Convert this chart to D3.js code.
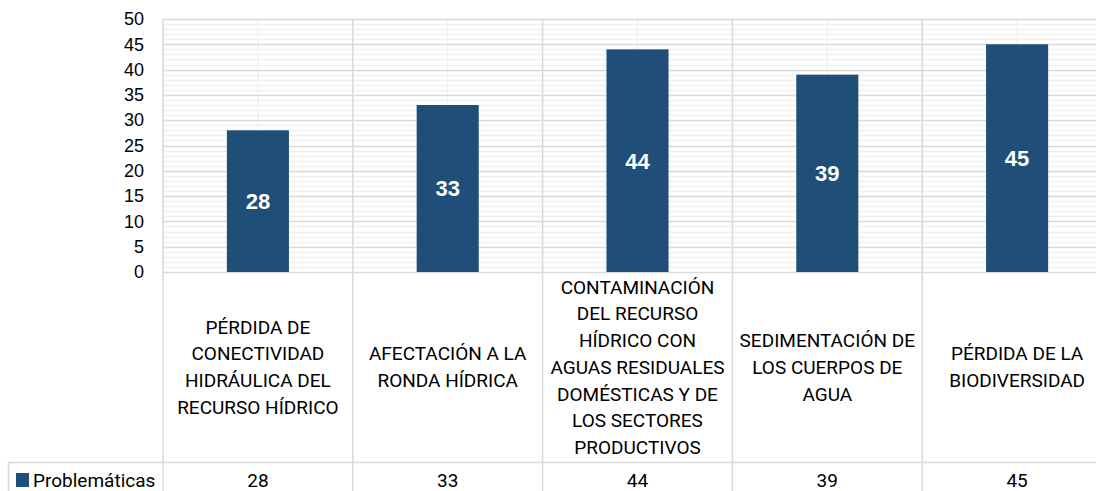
<!DOCTYPE html>
<html>
<head>
<meta charset="utf-8">
<script src="https://cdn.jsdelivr.net/npm/d3@7"></script>
<style>
  body { margin: 0; background: #fff; }
  svg { display: block; }
</style>
</head>
<body>
<div id="bar_chart"></div>
<script>
// Data
var categories = [
  ["PÉRDIDA DE", "CONECTIVIDAD", "HIDRÁULICA DEL", "RECURSO HÍDRICO"],
  ["AFECTACIÓN A LA", "RONDA HÍDRICA"],
  ["CONTAMINACIÓN", "DEL RECURSO", "HÍDRICO CON", "AGUAS RESIDUALES", "DOMÉSTICAS Y DE", "LOS SECTORES", "PRODUCTIVOS"],
  ["SEDIMENTACIÓN DE", "LOS CUERPOS DE", "AGUA"],
  ["PÉRDIDA DE LA", "BIODIVERSIDAD"]
];
var values = [28, 33, 44, 39, 45];
var seriesName = "Problemáticas";
var yTicks = [0, 5, 10, 15, 20, 25, 30, 35, 40, 45, 50];

var w = 1096, h = 491;
var margin = {top: 19, left: 163, bottom: 219};
var plotRight = 163 + 5 * 189.8;
var axisY = h - margin.bottom;   // y of value 0
var tableY = 462;                // top of the data table row
var gridMajor = "#d9d9d9", gridMinor = "#f0f0f0";
var barColor = "#1f4e79";
var textFont = "Roboto, sans-serif";

var svg = d3.select("#bar_chart").append("svg")
    .attr("width", w)
    .attr("height", h);

var ids = categories.map(function(d, i) { return i; });

// scales
var x = d3.scaleBand().domain(ids).range([margin.left, plotRight]).paddingInner(0.673).paddingOuter(0.3365);
var xCat = d3.scaleBand().domain(ids).range([margin.left, plotRight]);
var y = d3.scaleLinear().domain([0, 50]).range([axisY, margin.top]);

// minor gridlines
var minor = d3.range(1, 50).filter(function(v) { return v % 5 !== 0; });
svg.append("g").selectAll("line").data(minor).enter().append("line")
    .attr("x1", margin.left).attr("x2", plotRight)
    .attr("y1", function(d) { return Math.round(y(d)) + 0.5; })
    .attr("y2", function(d) { return Math.round(y(d)) + 0.5; })
    .attr("stroke", gridMinor).attr("stroke-width", 1.3);

// minor vertical gridlines at category centres
svg.append("g").selectAll("line").data(ids).enter().append("line")
    .attr("x1", function(d) { return xCat(d) + xCat.bandwidth() / 2; })
    .attr("x2", function(d) { return xCat(d) + xCat.bandwidth() / 2; })
    .attr("y1", margin.top).attr("y2", axisY)
    .attr("stroke", gridMinor).attr("stroke-width", 1.3);

// major gridlines
svg.append("g").selectAll("line").data(yTicks).enter().append("line")
    .attr("x1", margin.left).attr("x2", plotRight)
    .attr("y1", function(d) { return Math.round(y(d)) + 0.5; })
    .attr("y2", function(d) { return Math.round(y(d)) + 0.5; })
    .attr("stroke", gridMajor).attr("stroke-width", 1.5);

// category boundaries, down through the data table
var bounds = ids.concat([ids.length]);
svg.append("g").selectAll("line").data(bounds).enter().append("line")
    .attr("x1", function(d) { return margin.left + d * xCat.step(); })
    .attr("x2", function(d) { return margin.left + d * xCat.step(); })
    .attr("y1", margin.top).attr("y2", h)
    .attr("stroke", gridMajor).attr("stroke-width", 1.5);

// data table row
svg.append("line")
    .attr("x1", 8).attr("x2", plotRight)
    .attr("y1", tableY + 0.5).attr("y2", tableY + 0.5)
    .attr("stroke", gridMajor).attr("stroke-width", 1.5);
svg.append("line")
    .attr("x1", 8.5).attr("x2", 8.5)
    .attr("y1", tableY).attr("y2", h)
    .attr("stroke", gridMajor).attr("stroke-width", 1.5);

// bars
svg.append("g").selectAll("rect").data(values).enter().append("rect")
    .attr("x", function(d, i) { return x(i); })
    .attr("y", function(d) { return y(d); })
    .attr("width", x.bandwidth())
    .attr("height", function(d) { return axisY - y(d); })
    .attr("fill", barColor);

// value labels inside bars
svg.append("g").selectAll("text").data(values).enter().append("text")
    .attr("x", function(d, i) { return x(i) + x.bandwidth() / 2; })
    .attr("y", function(d) { return (y(d) + axisY) / 2; })
    .attr("dy", "0.36em")
    .attr("text-anchor", "middle")
    .attr("fill", "#fff")
    .attr("font-family", "Liberation Sans, Arial, sans-serif")
    .attr("font-weight", "bold")
    .attr("font-size", 22)
    .text(function(d) { return d; });

// y axis labels
var yAxis = d3.axisLeft(y).tickValues(yTicks).tickSize(0).tickPadding(0);
var gy = svg.append("g")
    .attr("transform", "translate(144,0)")
    .call(yAxis);
gy.select(".domain").remove();
gy.selectAll("text")
    .attr("font-family", "Liberation Sans, Arial, sans-serif")
    .attr("font-size", 18)
    .attr("fill", "#000");

// category labels
var lineH = 26.7;
var midY = (axisY + tableY) / 2;
var labels = svg.append("g").selectAll("text").data(categories).enter().append("text")
    .attr("text-anchor", "middle")
    .attr("font-family", textFont)
    .attr("font-size", 19)
    .attr("fill", "#000");
labels.each(function(lines, i) {
    var cx = xCat(i) + xCat.bandwidth() / 2;
    var top = midY - (lines.length - 1) * lineH / 2;
    d3.select(this).selectAll("tspan").data(lines).enter().append("tspan")
        .attr("x", cx)
        .attr("y", function(d, j) { return top + j * lineH; })
        .attr("dy", "0.36em")
        .text(function(d) { return d; });
});

// data table values
svg.append("g").selectAll("text").data(values).enter().append("text")
    .attr("x", function(d, i) { return xCat(i) + xCat.bandwidth() / 2; })
    .attr("y", 480)
    .attr("dy", "0.36em")
    .attr("text-anchor", "middle")
    .attr("font-family", textFont)
    .attr("font-size", 19)
    .attr("fill", "#000")
    .text(function(d) { return d; });

// legend key + series name
svg.append("rect")
    .attr("x", 16).attr("y", 473)
    .attr("width", 13).attr("height", 14)
    .attr("fill", barColor);
svg.append("text")
    .attr("x", 33).attr("y", 480)
    .attr("dy", "0.36em")
    .attr("font-family", textFont)
    .attr("font-size", 19)
    .attr("fill", "#000")
    .text(seriesName);
</script>
</body>
</html>
